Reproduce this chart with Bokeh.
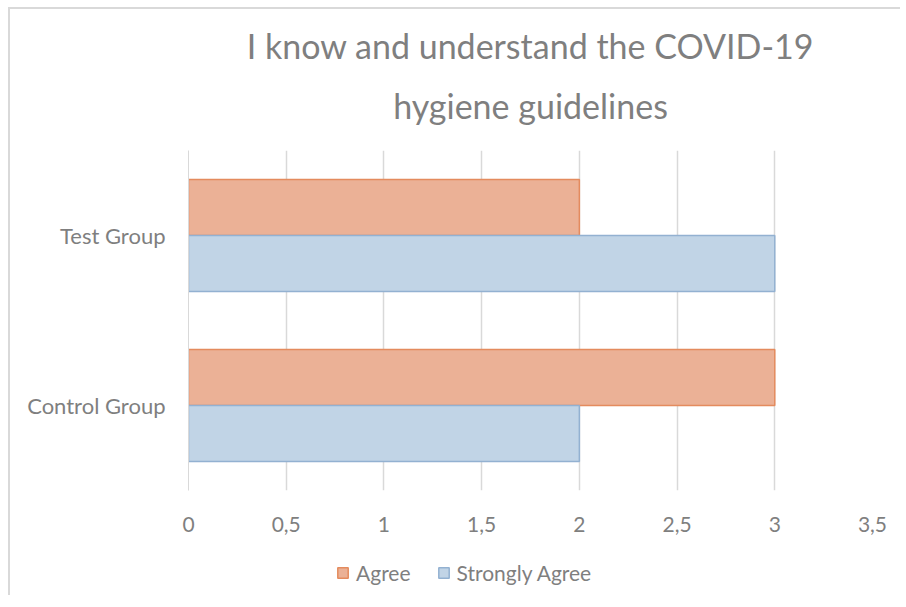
from bokeh.plotting import figure
from bokeh.models import ColumnDataSource, FactorRange, Legend, LegendItem, Title, FixedTicker
from bokeh.layouts import column
from bokeh.transform import dodge
from bokeh.embed import file_html
from bokeh.resources import INLINE

groups = ["Control Group", "Test Group"]
agree = [3, 2]
strongly_agree = [2, 3]
series_names = ["Agree", "Strongly Agree"]
x_ticks = [0, 0.5, 1, 1.5, 2, 2.5, 3, 3.5]
x_tick_labels = ["0", "0,5", "1", "1,5", "2", "2,5", "3", "3,5"]
title_lines = ["I know and understand the COVID-19", "hygiene guidelines"]

FONT = "Lato"
TXT = "#7F7F7F"
FILLS = ["#EBB196", "#C1D4E6"]
LINES = ["#E48B5E", "#93B1D1"]

src = ColumnDataSource(dict(g=groups, agree=agree, strong=strongly_agree))

p = figure(width=890, height=526, output_backend="svg", toolbar_location=None,
           y_range=FactorRange(*groups), x_range=(0, 3.5),
           min_border_left=178, min_border_right=28, min_border_top=141, min_border_bottom=45)
p.outline_line_color = None
p.border_fill_color = "white"

p.hbar(y=dodge("g", 0.165, range=p.y_range), right="agree", left=0, height=0.33, source=src,
       fill_color=FILLS[0], line_color=LINES[0], line_width=1.5)
p.hbar(y=dodge("g", -0.165, range=p.y_range), right="strong", left=0, height=0.33, source=src,
       fill_color=FILLS[1], line_color=LINES[1], line_width=1.5)

for i, line in enumerate(reversed(title_lines)):
    t = Title(text=line, align="center", text_font=FONT, text_font_size="34px",
              text_font_style="normal", text_color=TXT, standoff=(50 if i == 0 else -17))
    p.add_layout(t, "above")

p.xaxis.ticker = FixedTicker(ticks=x_ticks)
p.xaxis.major_label_overrides = {t: l for t, l in zip(x_ticks, x_tick_labels)}
for ax in (p.xaxis[0], p.yaxis[0]):
    ax.major_tick_line_color = None
    ax.minor_tick_line_color = None
    ax.major_label_text_font = FONT
    ax.major_label_text_color = TXT
p.xaxis.major_label_text_font_size = "21px"
p.yaxis.major_label_text_font_size = "22px"
p.xaxis.axis_line_color = None
p.yaxis.axis_line_color = "#d9d9d9"
p.xaxis.major_label_standoff = 20
p.yaxis.major_label_standoff = 17

p.xgrid.grid_line_color = "#d9d9d9"
p.xgrid.grid_line_width = 1.5
p.ygrid.grid_line_color = None

# legend strip below the chart (hidden renderers only supply the legend swatches)
lf = figure(width=890, height=60, output_backend="svg", toolbar_location=None,
            x_range=(0, 1), y_range=(0, 1), min_border=0)
lf.axis.visible = False
lf.grid.visible = False
lf.outline_line_color = None
items = []
for name, col, fc, lc in zip(series_names, ["agree", "strong"], FILLS, LINES):
    r = lf.quad(left=0, right=col, top=1, bottom=0, source=src,
                fill_color=fc, line_color=lc, line_width=1.5, visible=False)
    items.append(LegendItem(label=name, renderers=[r]))
legend = Legend(items=items, orientation="horizontal", location=(148, 10),
                label_text_font=FONT, label_text_font_size="21px", label_text_color=TXT,
                glyph_width=13, glyph_height=13, spacing=26, label_standoff=7,
                inactive_fill_alpha=0, click_policy="none",
                border_line_color=None, background_fill_alpha=0, margin=0, padding=0)
lf.add_layout(legend)

layout = column(p, lf, spacing=0)
layout.styles = {"margin-left": "8px", "margin-top": "7px",
                 "border-left": "2px solid #d9d9d9", "border-top": "2px solid #d9d9d9"}
open("out.html", "w").write(file_html(layout, INLINE))
